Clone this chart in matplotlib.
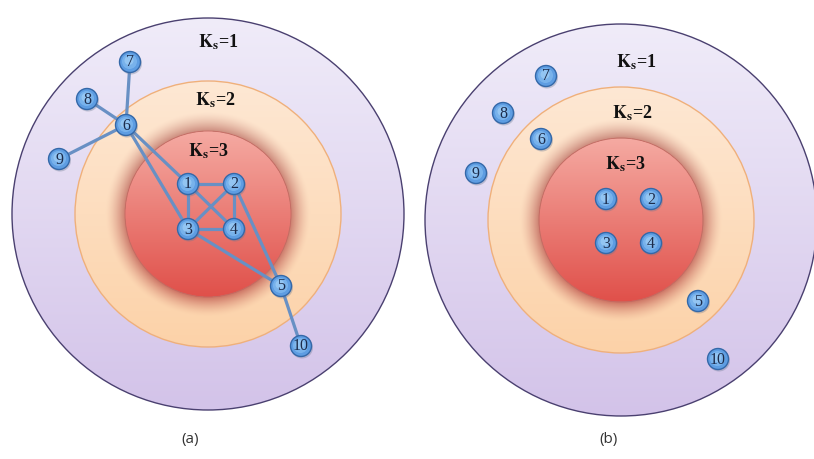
import numpy as np
import matplotlib
matplotlib.use("Agg")
import matplotlib.pyplot as plt
from matplotlib.patches import Circle
from matplotlib.colors import to_rgb

plt.rcParams['mathtext.fontset'] = 'stix'

# node ids and pixel positions in the two panels
node_ids = [1, 2, 3, 4, 5, 6, 7, 8, 9, 10]
left_x = [188, 234, 188, 234, 281, 126, 130, 87, 59, 301]
left_y = [184, 184, 229, 229, 286, 125, 62, 99, 159, 346]
right_x = [606, 651, 606, 651, 698, 541, 546, 503, 476, 718]
right_y = [199, 199, 243, 243, 301, 139, 76, 113, 173, 359]

# edges of the graph (shown only in panel a)
edges = [(6, 7), (6, 8), (6, 9), (6, 1), (6, 3), (1, 2), (1, 3), (1, 4),
         (2, 3), (2, 4), (3, 4), (2, 5), (3, 5), (5, 10)]

# shell geometry: center x, center y, outer / middle / core radius
left_shells = (208, 214, 196, 133, 83)
right_shells = (621, 220, 196, 133, 82)
shell_labels = [r"$\mathbf{K_s}$=1", r"$\mathbf{K_s}$=2", r"$\mathbf{K_s}$=3"]
left_label_xy = [(218, 42), (215, 100), (208, 151)]
right_label_xy = [(636, 62), (632, 113), (625, 164)]
panel_names = ["(a)", "(b)"]
panel_xy = [(190, 440), (608, 440)]


def lerp(c1, c2, t):
    c1 = np.array(to_rgb(c1))
    c2 = np.array(to_rgb(c2))
    return c1[None, None, :] * (1 - t[..., None]) + c2[None, None, :] * t[..., None]


def draw_shells(ax, shells):
    cx, cy, r1, r2, r3 = shells
    n = 500
    xs = np.linspace(cx - r1, cx + r1, n)
    ys = np.linspace(cy - r1, cy + r1, n)
    X, Y = np.meshgrid(xs, ys)
    R = np.hypot(X - cx, Y - cy)

    t1 = np.clip((Y - (cy - r1)) / (2 * r1), 0, 1)
    t2 = np.clip((Y - (cy - r2)) / (2 * r2), 0, 1)
    t3 = np.clip((Y - (cy - r3)) / (2 * r3), 0, 1)

    outer = lerp("#f0ecf9", "#d3c3e9", t1)
    mid = lerp("#fee8d4", "#fcd2a8", t2)
    core = lerp("#f5aaa2", "#e0504a", t3)
    halo_c = lerp("#cc8c7e", "#cc7262", t3)

    img = outer.copy()
    m2 = R <= r2
    img[m2] = mid[m2]
    # dark glow around the core
    hw = 20.0
    h = np.clip(1 - (R - r3) / hw, 0, 1) ** 1.5
    band = (R > r3) & (R <= r3 + hw)
    img[band] = (mid[band] * (1 - h[band][:, None]) + halo_c[band] * h[band][:, None])
    m3 = R <= r3
    img[m3] = core[m3]

    im = ax.imshow(img, extent=(cx - r1, cx + r1, cy + r1, cy - r1),
                   interpolation="bilinear", zorder=1)
    clip = Circle((cx, cy), r1, transform=ax.transData)
    im.set_clip_path(clip)

    ax.add_patch(Circle((cx, cy), r1, fill=False, ec="#4a4070", lw=1.0, zorder=2))
    ax.add_patch(Circle((cx, cy), r2, fill=False, ec="#f0b07a", lw=1.0, zorder=2))
    ax.add_patch(Circle((cx, cy), r3, fill=False, ec="#c26a62", lw=0.6, zorder=2))


def draw_nodes(ax, xs, ys):
    for nid, x, y in zip(node_ids, xs, ys):
        ax.add_patch(Circle((x + 1, y + 1.5), 11, fc="#6a7890", ec="none",
                            alpha=0.35, zorder=5))
        ax.add_patch(Circle((x, y), 10.5, fc="#5e9de2", ec="#3468a8", lw=1.0, zorder=6))
        ax.add_patch(Circle((x - 0.5, y - 0.5), 7.5, fc="#84bcf0", ec="none",
                            alpha=0.7, zorder=6))
        ax.add_patch(Circle((x - 1, y - 1.5), 4.5, fc="#a6d2f8", ec="none",
                            alpha=0.6, zorder=6))
        ax.text(x, y + 0.5, str(nid), ha="center", va="center", fontsize=11.5,
                family="Liberation Serif", color="#1c2c4c", zorder=7)


fig = plt.figure(figsize=(8.14, 4.59), dpi=100)
ax = fig.add_axes([0, 0, 1, 1])
ax.set_xlim(0, 814)
ax.set_ylim(459, 0)
ax.axis("off")

# panel b first so panel a's outer circle sits on top where they touch
draw_shells(ax, right_shells)
draw_shells(ax, left_shells)

# edges in panel a
pos = {nid: (x, y) for nid, x, y in zip(node_ids, left_x, left_y)}
for a, b in edges:
    ax.plot([pos[a][0], pos[b][0]], [pos[a][1], pos[b][1]],
            color="#6890c4", lw=2.3, solid_capstyle="round", zorder=4)

draw_nodes(ax, left_x, left_y)
draw_nodes(ax, right_x, right_y)

for lab, (x, y) in zip(shell_labels, left_label_xy):
    ax.text(x, y, lab, ha="center", va="center", fontsize=13,
            family="Liberation Serif", fontweight="bold", color="#111111", zorder=3)
for lab, (x, y) in zip(shell_labels, right_label_xy):
    ax.text(x, y, lab, ha="center", va="center", fontsize=13,
            family="Liberation Serif", fontweight="bold", color="#111111", zorder=3)

for name, (x, y) in zip(panel_names, panel_xy):
    ax.text(x, y, name, ha="center", va="center", fontsize=11,
            family="Open Sans", color="#333333")

fig.savefig("out.png", dpi=100)
